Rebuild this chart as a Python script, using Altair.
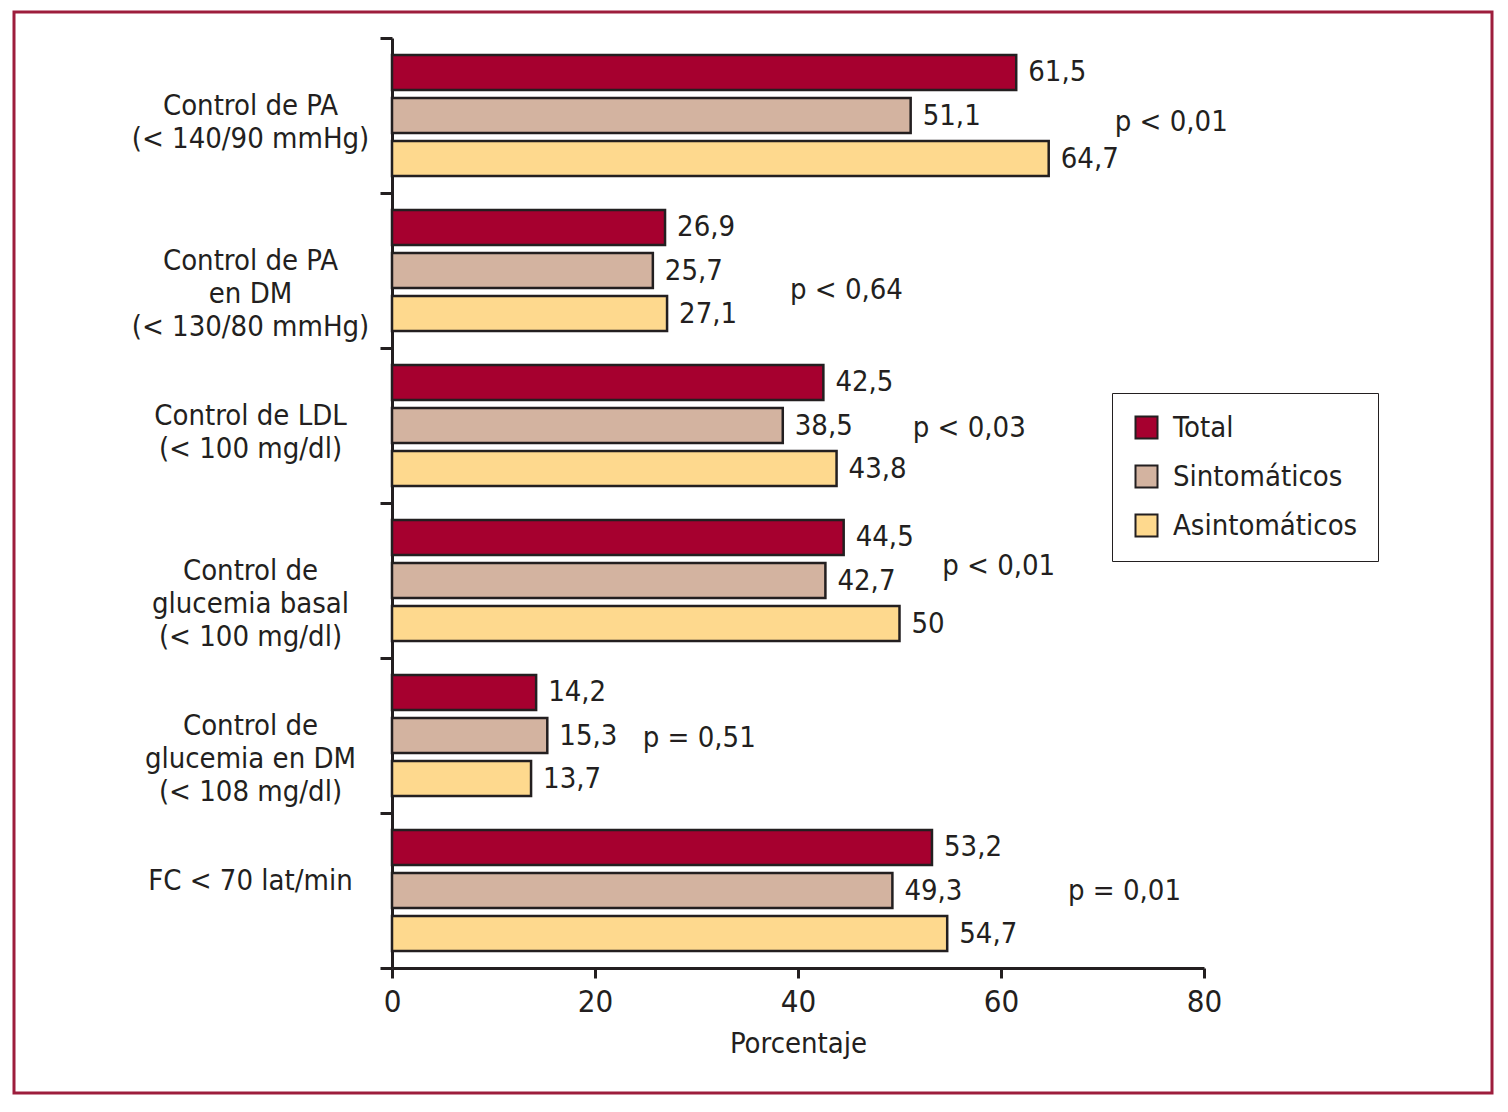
import altair as alt
import pandas as pd

categories = [
    "Control de PA\n(< 140/90 mmHg)",
    "Control de PA\nen DM\n(< 130/80 mmHg)",
    "Control de LDL\n(< 100 mg/dl)",
    "Control de\nglucemia basal\n(< 100 mg/dl)",
    "Control de\nglucemia en DM\n(< 108 mg/dl)",
    "FC < 70 lat/min",
]
series = ["Total", "Sintomáticos", "Asintomáticos"]
total = [61.5, 26.9, 42.5, 44.5, 14.2, 53.2]
sintomaticos = [51.1, 25.7, 38.5, 42.7, 15.3, 49.3]
asintomaticos = [64.7, 27.1, 43.8, 50, 13.7, 54.7]
p_values = ["p < 0,01", "p < 0,64", "p < 0,03", "p < 0,01", "p = 0,51", "p = 0,01"]
p_x = [71.2, 39.2, 51.3, 54.2, 24.7, 66.6]
p_nudge = [6, 19, 2, -15, 2, 0]
colors = ["#a6002f", "#d3b3a0", "#fed98e"]

FONT = "Liberation Sans Narrow, DejaVu Sans Condensed, sans-serif"
INK = "#231f20"
FS = 29


def fmt(v):
    s = ("%g" % v)
    return s.replace(".", ",")


rows = []
for i, c in enumerate(categories):
    for s, vals in zip(series, [total, sintomaticos, asintomaticos]):
        rows.append({"cat": c, "serie": s, "valor": vals[i], "etiqueta": fmt(vals[i])})
df = pd.DataFrame(rows)

y_enc = alt.Y(
    "cat:N",
    sort=categories,
    scale=alt.Scale(paddingInner=0, paddingOuter=0),
    axis=alt.Axis(
        title=None,
        labelExpr="split(datum.label, '\\n')",
        labelAlign="center",
        labelBaseline="middle",
        labelPadding=130,
        labelOffset=-10,
        labelFontSize=FS,
        labelLineHeight=33,
        labelColor=INK,
        labelFont=FONT,
        tickBand="extent",
        tickSize=12,
        tickWidth=3,
        tickColor=INK,
        domainWidth=3,
        domainColor=INK,
        labelLimit=400,
    ),
)
yoff = alt.YOffset(
    "serie:N", sort=series,
    scale=alt.Scale(paddingInner=0.186, paddingOuter=0.395),
)
x_enc = alt.X(
    "valor:Q",
    scale=alt.Scale(domain=[0, 80], nice=False),
    axis=alt.Axis(
        values=[0, 20, 40, 60, 80],
        grid=False,
        title="Porcentaje",
        titleFontSize=FS,
        titleFontWeight="normal",
        titleColor=INK,
        titleFont=FONT,
        titlePadding=12,
        labelFontSize=31,
        labelColor=INK,
        labelFont=FONT,
        labelPadding=9,
        labelFlush=False,
        tickSize=10,
        tickWidth=3,
        tickColor=INK,
        domainWidth=3,
        domainColor=INK,
    ),
)

frame = alt.Chart(pd.DataFrame({"a": [0]})).mark_rect(
    filled=False, stroke="#9d1d3c", strokeWidth=3
).encode(
    x=alt.value(-378), x2=alt.value(1100), y=alt.value(-26), y2=alt.value(1055)
)

bars = alt.Chart(df).mark_bar(stroke=INK, strokeWidth=2.5).encode(
    x=x_enc,
    y=y_enc,
    yOffset=yoff,
    color=alt.Color(
        "serie:N", sort=series,
        scale=alt.Scale(domain=series, range=colors),
        legend=alt.Legend(
            title=None,
            orient="none",
            legendX=720,
            legendY=355,
            strokeColor=INK,
            padding=20,
            symbolType="square",
            symbolSize=484,
            symbolStrokeColor=INK,
            symbolStrokeWidth=2,
            labelFontSize=FS,
            labelFont=FONT,
            labelColor=INK,
            labelOffset=12,
            labelLimit=400,
            rowPadding=18,
        ),
    ),
)

values = alt.Chart(df).mark_text(
    align="left", baseline="middle", dx=12, fontSize=FS, font=FONT, color=INK
).encode(
    x="valor:Q", y=alt.Y("cat:N", sort=categories), yOffset=alt.YOffset("serie:N", sort=series), text="etiqueta:N"
)

players = []
for c, p, px, dy in zip(categories, p_values, p_x, p_nudge):
    players.append(
        alt.Chart(pd.DataFrame({"cat": [c], "p": [p], "px": [px]})).mark_text(
            align="left", baseline="middle", fontSize=FS, font=FONT, color=INK, dy=dy
        ).encode(x="px:Q", y=alt.Y("cat:N", sort=categories), text="p:N")
    )

chart = alt.layer(frame, bars, values, *players).properties(
    width=812,
    height=930,
    autosize=alt.AutoSizeParams(type="none"),
    padding={"left": 384, "top": 30, "right": 296, "bottom": 135},
).configure(font=FONT).configure_view(stroke=None)

chart.save("out.html", embed_options={"renderer": "svg", "actions": False})
